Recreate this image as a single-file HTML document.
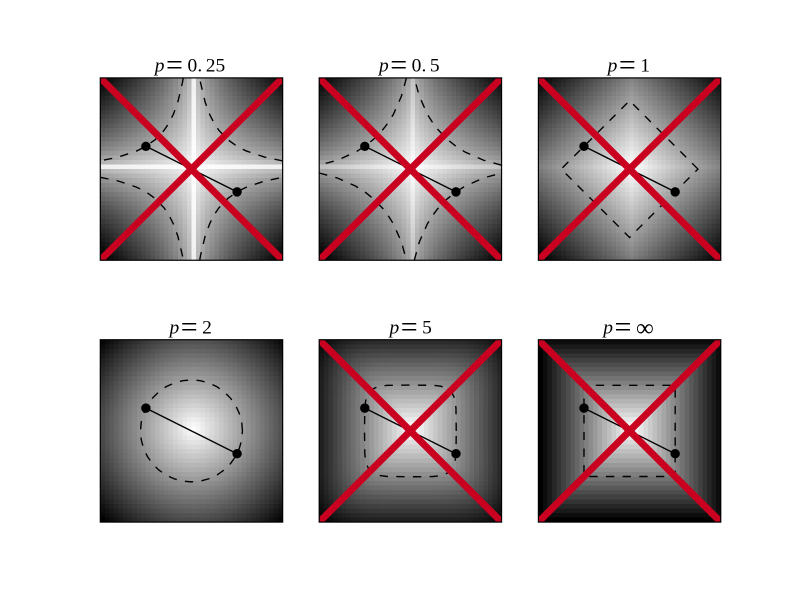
<!DOCTYPE html>
<html>
<head>
<meta charset="utf-8">
<title>p-norm unit balls</title>
<style>
html,body{margin:0;padding:0;background:#fff;}
svg{display:block;}
text{font-family:"Liberation Serif",serif;fill:#000;font-size:19.44px;}
.v{font-style:italic;}
.eq{font-size:30px;}
</style>
</head>
<body>
<svg id="fig" width="800" height="600" viewBox="0 0 800 600" xmlns="http://www.w3.org/2000/svg">
<defs id="defs"></defs>
<g id="panels"></g>
<text x="154.800" y="71.500"><tspan class="v">p</tspan><tspan class="eq" dx="1.500" dy="3">=</tspan><tspan dx="4.500" dy="-3">0</tspan><tspan dx="0.2">.</tspan><tspan dx="3.500">25</tspan></text>
<text x="379" y="71.500"><tspan class="v">p</tspan><tspan class="eq" dx="1.500" dy="3">=</tspan><tspan dx="4.500" dy="-3">0</tspan><tspan dx="0.2">.</tspan><tspan dx="3.500">5</tspan></text>
<text x="607.600" y="71.500"><tspan class="v">p</tspan><tspan class="eq" dx="1.500" dy="3">=</tspan><tspan dx="4.500" dy="-3">1</tspan></text>
<text x="169.500" y="333.500"><tspan class="v">p</tspan><tspan class="eq" dx="1.500" dy="3">=</tspan><tspan dx="4.500" dy="-3">2</tspan></text>
<text x="389.500" y="333.500"><tspan class="v">p</tspan><tspan class="eq" dx="1.500" dy="3">=</tspan><tspan dx="4.500" dy="-3">5</tspan></text>
<text x="603.300" y="333.500"><tspan class="v">p</tspan><tspan class="eq" dx="1.500" dy="3">=</tspan><tspan dx="4.500" dy="-0.5" style="font-size:25px">∞</tspan></text>
</svg>
<script>
// Gray levels per panel, indexed by cell distance from centre: row = larger distance, column = smaller distance.
const levelsP025 = [
[255],
[254,242],
[253,237,230],
[253,232,224,217],
[252,228,218,211,204],
[251,224,214,205,198,191],
[250,220,209,200,192,185,179],
[249,217,205,195,187,179,172,166],
[249,214,201,191,182,174,166,159,153],
[248,211,197,186,177,169,161,154,147,140],
[247,208,193,182,172,164,155,148,141,134,128],
[246,205,190,178,168,159,150,142,135,128,121,115],
[245,202,186,174,163,154,145,137,129,122,115,109,102],
[245,199,183,170,159,149,140,132,124,116,109,102,96,89],
[244,196,179,166,155,145,136,127,119,111,104,97,90,83,76],
[243,193,176,162,151,140,131,122,114,106,98,91,84,77,70,64],
[242,190,173,159,147,136,126,117,109,100,93,85,78,71,64,57,51],
[241,188,169,155,143,132,122,112,103,95,87,79,72,65,58,51,45,38],
[241,185,166,151,139,128,117,108,99,90,82,74,67,59,52,45,38,32,25],
[240,183,163,148,135,124,113,103,94,85,77,69,61,54,46,39,32,26,19,13],
[239,180,160,145,131,120,109,99,89,80,72,64,56,48,41,33,26,19,13,6,0]
];
const levelsP05 = [
[255],
[252,242],
[249,236,230],
[245,231,223,217],
[242,226,218,211,204],
[239,222,213,205,198,191],
[236,217,207,199,192,185,179],
[233,213,202,194,186,179,172,166],
[230,208,198,189,181,173,166,159,153],
[226,204,193,184,175,168,160,153,147,140],
[223,200,188,179,170,162,155,147,141,134,128],
[220,196,184,174,165,157,149,142,135,128,121,115],
[217,191,179,169,160,151,144,136,129,122,115,108,102],
[214,187,175,164,155,146,138,130,123,116,109,102,96,89],
[210,183,170,159,150,141,133,125,117,110,103,96,89,83,76],
[207,179,166,155,145,136,128,120,112,104,97,90,83,77,70,64],
[204,175,162,150,140,131,122,114,106,99,91,84,77,71,64,57,51],
[201,171,157,146,135,126,117,109,101,93,86,79,71,65,58,51,45,38],
[198,167,153,141,131,121,112,104,96,88,80,73,66,59,52,45,38,32,25],
[194,163,149,137,126,116,107,99,90,82,75,67,60,53,46,39,32,26,19,13],
[191,160,145,132,121,112,102,94,85,77,69,62,54,47,40,33,26,19,13,6,0]
];
const levelsP1 = [
[255],
[249,242],
[242,236,230],
[236,230,223,217],
[230,223,217,210,204],
[223,217,210,204,198,191],
[217,210,204,198,191,185,179],
[210,204,198,191,185,179,172,166],
[204,198,191,185,179,172,166,159,153],
[198,191,185,179,172,166,159,153,147,140],
[191,185,179,172,166,159,153,147,140,134,128],
[185,179,172,166,159,153,147,140,134,128,121,115],
[179,172,166,159,153,147,140,134,128,121,115,108,102],
[172,166,159,153,147,140,134,128,121,115,108,102,96,89],
[166,159,153,147,140,134,128,121,115,108,102,96,89,83,77],
[159,153,147,140,134,128,121,115,108,102,96,89,83,77,70,64],
[153,147,140,134,128,121,115,108,102,96,89,83,77,70,64,57,51],
[147,140,134,128,121,115,108,102,96,89,83,77,70,64,57,51,45,38],
[140,134,128,121,115,108,102,96,89,83,77,70,64,57,51,45,38,32,26],
[134,128,121,115,108,102,96,89,83,77,70,64,57,51,45,38,32,26,19,13],
[128,121,115,108,102,96,89,83,77,70,64,57,51,45,38,32,26,19,13,6,0]
];
const levelsP2 = [
[255],
[246,242],
[237,235,229],
[228,226,222,217],
[219,218,215,210,204],
[210,209,206,202,197,191],
[201,200,198,195,190,185,179],
[192,191,189,186,182,177,172,166],
[183,182,181,178,174,170,165,159,153],
[174,173,172,169,166,162,157,152,146,140],
[165,164,163,161,158,154,150,145,140,134,128],
[156,155,154,152,149,146,142,137,132,127,121,115],
[147,146,145,143,141,138,134,130,125,120,114,108,102],
[138,137,136,135,132,129,126,122,117,112,107,101,95,89],
[129,128,128,126,124,121,118,114,110,105,100,94,89,83,76],
[120,119,119,117,115,112,109,106,102,97,92,87,82,76,70,64],
[111,110,110,108,106,104,101,98,94,89,85,80,75,69,63,57,51],
[102,101,101,99,98,95,92,89,86,82,77,72,67,62,56,51,45,38],
[93,92,92,90,89,87,84,81,77,74,69,65,60,55,49,44,38,32,25],
[84,83,83,82,80,78,75,72,69,65,61,57,52,47,42,37,31,25,19,13],
[75,74,74,73,71,69,67,64,61,57,53,49,45,40,35,30,24,18,12,6,0]
];
const levelsP5 = [
[255],
[244,242],
[233,233,229],
[222,222,221,217],
[211,211,210,209,204],
[200,200,199,199,196,191],
[188,188,188,188,187,184,179],
[177,177,177,177,176,175,171,166],
[166,166,166,166,166,165,162,159,153],
[155,155,155,155,155,154,153,150,146,140],
[144,144,144,144,144,143,142,140,138,133,128],
[133,133,133,133,133,132,132,130,128,125,120,115],
[122,122,122,122,122,121,121,120,118,116,112,108,102],
[111,111,111,111,111,110,110,109,108,106,104,100,95,89],
[100,100,100,100,100,100,99,99,98,96,94,91,87,82,76],
[89,89,89,89,89,89,88,88,87,86,84,82,79,75,70,64],
[77,77,77,77,77,77,77,77,76,75,74,72,70,66,62,57,51],
[66,66,66,66,66,66,66,66,65,65,64,62,60,57,54,49,44,38],
[55,55,55,55,55,55,55,55,54,54,53,52,50,48,45,41,36,31,25],
[44,44,44,44,44,44,44,44,43,43,42,41,40,38,35,32,28,24,19,13],
[33,33,33,33,33,33,33,33,33,32,32,31,30,28,26,23,20,16,11,6,0]
];
const levelsPInf = [
[255],
[242,242],
[230,230,230],
[217,217,217,217],
[204,204,204,204,204],
[191,191,191,191,191,191],
[179,179,179,179,179,179,179],
[166,166,166,166,166,166,166,166],
[153,153,153,153,153,153,153,153,153],
[140,140,140,140,140,140,140,140,140,140],
[128,128,128,128,128,128,128,128,128,128,128],
[115,115,115,115,115,115,115,115,115,115,115,115],
[102,102,102,102,102,102,102,102,102,102,102,102,102],
[89,89,89,89,89,89,89,89,89,89,89,89,89,89],
[77,77,77,77,77,77,77,77,77,77,77,77,77,77,77],
[64,64,64,64,64,64,64,64,64,64,64,64,64,64,64,64],
[51,51,51,51,51,51,51,51,51,51,51,51,51,51,51,51,51],
[38,38,38,38,38,38,38,38,38,38,38,38,38,38,38,38,38,38],
[26,26,26,26,26,26,26,26,26,26,26,26,26,26,26,26,26,26,26],
[13,13,13,13,13,13,13,13,13,13,13,13,13,13,13,13,13,13,13,13],
[0,0,0,0,0,0,0,0,0,0,0,0,0,0,0,0,0,0,0,0,0]
];

// Dashed level curve, first quadrant, from the x side to the y side.
const contourP025 = [[1,.09],[.8,.132],[.6,.199],[.5,.25],[.4,.321],[.3,.426],[.25,.5],[.2,.598],[.15,.734],[.1,.944],[.09,1]];
const contourP05 = [[1,.043],[.8,.098],[.6,.187],[.5,.25],[.4,.33],[.3,.435],[.25,.5],[.187,.6],[.098,.8],[.043,1]];
const contourP1 = [[.75,0],[0,.75]];
const contourP2 = [[.559,0],[.551,.097],[.525,.191],[.484,.28],[.428,.359],[.359,.428],[.28,.484],[.191,.525],[.097,.551],[0,.559]];
const contourP5 = [[.503,0],[.5,.25],[.49,.331],[.48,.369],[.46,.41],[.438,.438],[.41,.46],[.369,.48],[.331,.49],[.25,.5],[0,.503]];
const contourPInf = [[.5,0],[.5,.5],[0,.5]];

// Solid segment with end markers, shared by all panels.
const segmentX = [-.5, .5];
const segmentY = [.25, -.25];

// Red cross end points.
const crossA = [[-1,-1],[1,1]];
const crossB = [[-1,1],[1,-1]];

const panelNames = ['p-0-25','p-0-5','p-1','p-2','p-5','p-infinity'];
const panelLevels = [levelsP025, levelsP05, levelsP1, levelsP2, levelsP5, levelsPInf];
const panelContours = [contourP025, contourP05, contourP1, contourP2, contourP5, contourPInf];
const contourClosed = [false, false, true, true, true, true];
const showCross = [true, true, true, false, true, true];

const AXIS_SIZE = 182.35;
const AXIS_LEFT = [100.3, 319.2, 538.4];
const AXIS_TOP = [77.9, 339.74];
const CELLS = 40;
const NS = 'http://www.w3.org/2000/svg';

function make(tag, parent) {
  const el = document.createElementNS(NS, tag);
  parent.appendChild(el);
  return el;
}
function xScale(col, v) { return AXIS_LEFT[col] + (v + 1) / 2 * AXIS_SIZE; }
function yScale(row, v) { return AXIS_TOP[row] + (1 - v) / 2 * AXIS_SIZE; }

const root = document.getElementById('panels');
const defs = document.getElementById('defs');

panelNames.forEach(function (name, idx) {
  const col = idx % 3;
  const row = Math.floor(idx / 3);
  const X = function (v) { return xScale(col, v); };
  const Y = function (v) { return yScale(row, v); };

  const clip = make('clipPath', defs);
  clip.setAttribute('id', 'clip' + idx);
  const clipRect = make('rect', clip);
  clipRect.setAttribute('x', AXIS_LEFT[col]);
  clipRect.setAttribute('y', AXIS_TOP[row]);
  clipRect.setAttribute('width', AXIS_SIZE);
  clipRect.setAttribute('height', AXIS_SIZE);

  const panel = make('g', root);
  
  

  const heat = make('g', panel);
  
  
  heat.setAttribute('shape-rendering', 'crispEdges');
  const levels = panelLevels[idx];
  const step = 2 / CELLS;
  for (let i = 0; i < CELLS; i++) {
    for (let j = 0; j < CELLS; j++) {
      const a = Math.abs(i - CELLS / 2);
      const b = Math.abs(j - CELLS / 2);
      const g = levels[Math.max(a, b)][Math.min(a, b)];
      const vx = -1 + i * step;
      const vy = -1 + j * step;
      const cell = make('rect', heat);
      
      
      cell.setAttribute('x', X(vx));
      cell.setAttribute('y', Y(vy + step));
      cell.setAttribute('width', X(vx + step) - X(vx));
      cell.setAttribute('height', Y(vy) - Y(vy + step));
      cell.setAttribute('fill', 'rgb(' + g + ',' + g + ',' + g + ')');
    }
  }

  const q = panelContours[idx];
  const quadrants = [
    q.map(function (p) { return [p[0], p[1]]; }),
    q.map(function (p) { return [-p[0], p[1]]; }).reverse(),
    q.map(function (p) { return [-p[0], -p[1]]; }),
    q.map(function (p) { return [p[0], -p[1]]; }).reverse()
  ];
  const toPath = function (pts) {
    return pts.map(function (p, k) { return (k ? 'L' : 'M') + X(p[0]).toFixed(2) + ' ' + Y(p[1]).toFixed(2); }).join('');
  };
  const d = contourClosed[idx]
    ? toPath(quadrants[0].concat(quadrants[1], quadrants[2], quadrants[3])) + 'Z'
    : quadrants.map(toPath).join('');
  const contour = make('path', panel);
  
  
  contour.setAttribute('d', d);
  contour.setAttribute('fill', 'none');
  contour.setAttribute('stroke', '#000');
  contour.setAttribute('stroke-width', '1.39');
  contour.setAttribute('stroke-dasharray', '8.33 8.33');
  contour.setAttribute('clip-path', 'url(#clip' + idx + ')');

  const seg = make('line', panel);
  
  
  seg.setAttribute('x1', X(segmentX[0]));
  seg.setAttribute('y1', Y(segmentY[0]));
  seg.setAttribute('x2', X(segmentX[1]));
  seg.setAttribute('y2', Y(segmentY[1]));
  seg.setAttribute('stroke', '#000');
  seg.setAttribute('stroke-width', '1.39');

  segmentX.forEach(function (vx, k) {
    const dot = make('circle', panel);
    
    
    dot.setAttribute('cx', X(vx));
    dot.setAttribute('cy', Y(segmentY[k]));
    dot.setAttribute('r', '4.7');
    dot.setAttribute('fill', '#000');
  });

  if (showCross[idx]) {
    [crossA, crossB].forEach(function (c) {
      const stroke = make('line', panel);
      
      
      stroke.setAttribute('x1', X(c[0][0]));
      stroke.setAttribute('y1', Y(c[0][1]));
      stroke.setAttribute('x2', X(c[1][0]));
      stroke.setAttribute('y2', Y(c[1][1]));
      stroke.setAttribute('stroke', '#ca0020');
      stroke.setAttribute('stroke-width', '6.94');
      stroke.setAttribute('stroke-linecap', 'round');
      stroke.setAttribute('clip-path', 'url(#clip' + idx + ')');
    });
  }

  const frame = make('rect', panel);
  
  
  frame.setAttribute('x', AXIS_LEFT[col]);
  frame.setAttribute('y', AXIS_TOP[row]);
  frame.setAttribute('width', AXIS_SIZE);
  frame.setAttribute('height', AXIS_SIZE);
  frame.setAttribute('fill', 'none');
  frame.setAttribute('stroke', '#000');
  frame.setAttribute('stroke-width', '1.2');
});
</script>
</body>
</html>
